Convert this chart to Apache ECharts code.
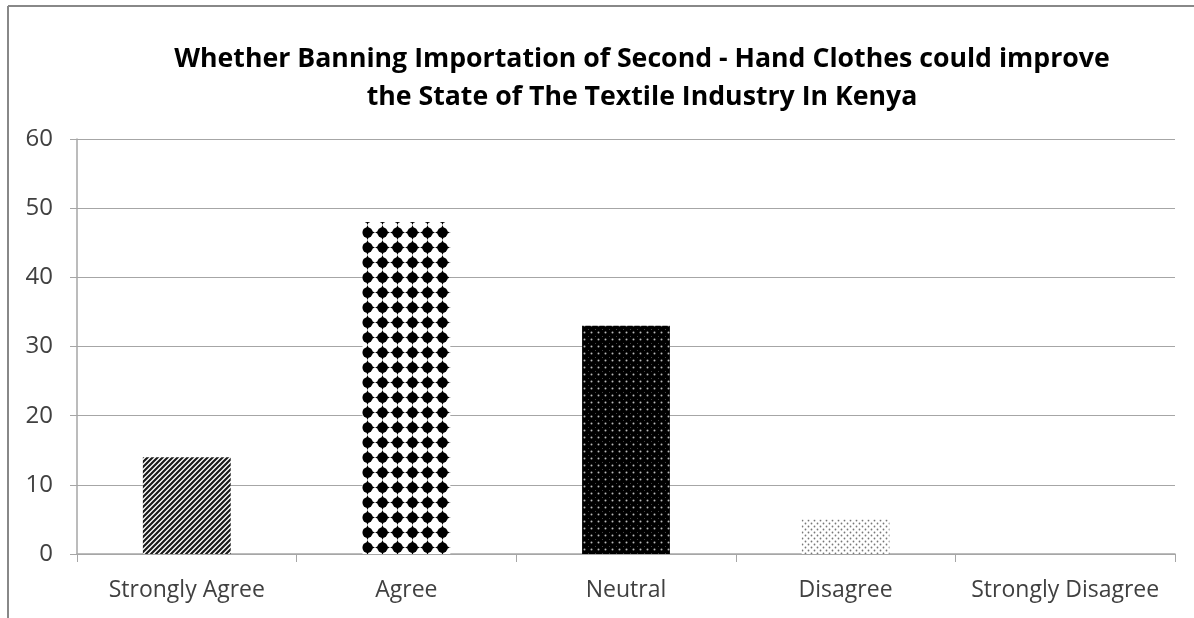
<!DOCTYPE html>
<html>
<head>
<meta charset="utf-8">
<script src="https://cdn.jsdelivr.net/npm/echarts@6/dist/echarts.min.js"></script>
<style>
  html, body { margin: 0; padding: 0; background: #fff; }
  #chart { width: 1194px; height: 618px; }
</style>
</head>
<body>
<div id="chart"></div>
<script>
  var categories = ["Strongly Agree", "Agree", "Neutral", "Disagree", "Strongly Disagree"];
  var values = [14, 48, 33, 5, 0];
  var yTicks = [0, 10, 20, 30, 40, 50, 60];

  // little canvas tiles for the hatch fills
  function tile(size, draw) {
    var c = document.createElement("canvas");
    c.width = size; c.height = size;
    var ctx = c.getContext("2d");
    draw(ctx, size);
    return { image: c, repeat: "repeat" };
  }

  var stripes = tile(5, function (ctx, s) {
    ctx.fillStyle = "#fff"; ctx.fillRect(0, 0, s, s);
    ctx.strokeStyle = "#1a1a1a"; ctx.lineWidth = 2.2;
    ctx.beginPath();
    ctx.moveTo(-1, s + 1); ctx.lineTo(s + 1, -1);
    ctx.moveTo(-1, 1); ctx.lineTo(1, -1);
    ctx.moveTo(s - 1, s + 1); ctx.lineTo(s + 1, s - 1);
    ctx.stroke();
  });

  var diamonds = tile(15, function (ctx, s) {
    ctx.fillStyle = "#fff"; ctx.fillRect(0, 0, s, s);
    ctx.fillStyle = "#000";
    var c = s / 2;
    ctx.beginPath(); ctx.arc(c, c, 5.2, 0, Math.PI * 2); ctx.fill();
    ctx.beginPath();
    ctx.moveTo(c - 7.5, c); ctx.lineTo(c - 2.2, c - 2.2);
    ctx.lineTo(c, c - 7.5); ctx.lineTo(c + 2.2, c - 2.2);
    ctx.lineTo(c + 7.5, c); ctx.lineTo(c + 2.2, c + 2.2);
    ctx.lineTo(c, c + 7.5); ctx.lineTo(c - 2.2, c + 2.2);
    ctx.closePath(); ctx.fill();
  });

  var darkDots = tile(7, function (ctx, s) {
    ctx.fillStyle = "#000"; ctx.fillRect(0, 0, s, s);
    ctx.fillStyle = "#bbb";
    ctx.beginPath(); ctx.arc(3.5, 3.5, 1, 0, Math.PI * 2); ctx.fill();
    ctx.fillStyle = "#444";
    ctx.fillRect(0, 0, 1, 1);
  });

  var lightDots = tile(6, function (ctx, s) {
    ctx.fillStyle = "#fff"; ctx.fillRect(0, 0, s, s);
    ctx.fillStyle = "#777";
    ctx.beginPath(); ctx.arc(1.5, 1.5, 0.9, 0, Math.PI * 2); ctx.fill();
    ctx.beginPath(); ctx.arc(4.5, 4.5, 0.9, 0, Math.PI * 2); ctx.fill();
  });

  var fills = [stripes, diamonds, darkDots, lightDots, lightDots];

  var chart = echarts.init(document.getElementById("chart"));
  var font = "'Open Sans', sans-serif";
  chart.setOption({
    backgroundColor: "#fff",
    animation: false,
    title: {
      text: "Whether Banning Importation of Second - Hand Clothes could improve\nthe State of The Textile Industry In Kenya",
      left: 637,
      top: 35,
      textAlign: "center",
      textStyle: { fontFamily: font, fontSize: 26.7, fontWeight: "bold", color: "#000", lineHeight: 38 }
    },
    graphic: [
      { type: "line", shape: { x1: 8, y1: 6, x2: 1194, y2: 6 }, style: { stroke: "#888", lineWidth: 2 } },
      { type: "line", shape: { x1: 8, y1: 6, x2: 8, y2: 618 }, style: { stroke: "#888", lineWidth: 2 } }
    ],
    grid: { left: 77, right: 19, top: 139, bottom: 64, containLabel: false },
    xAxis: {
      type: "category",
      data: categories,
      axisLine: { lineStyle: { color: "#a6a6a6", width: 1.5 } },
      axisTick: { show: true, interval: 0, length: 8, lineStyle: { color: "#a6a6a6" } },
      axisLabel: { interval: 0, hideOverlap: false, fontFamily: font, fontSize: 23, color: "#404040", margin: 25 }
    },
    yAxis: {
      type: "value",
      min: yTicks[0],
      max: yTicks[yTicks.length - 1],
      interval: 10,
      axisLine: { show: true, lineStyle: { color: "#a6a6a6", width: 1.5 } },
      axisTick: { show: true, length: 7, lineStyle: { color: "#a6a6a6" } },
      axisLabel: { fontFamily: font, fontSize: 24, color: "#404040", margin: 24 },
      splitLine: { lineStyle: { color: "#a6a6a6", width: 1.2 } }
    },
    series: [{
      type: "bar",
      barWidth: "40%",
      data: values.map(function (v, i) {
        return { value: v, itemStyle: { color: fills[i] } };
      })
    }]
  });
</script>
</body>
</html>
